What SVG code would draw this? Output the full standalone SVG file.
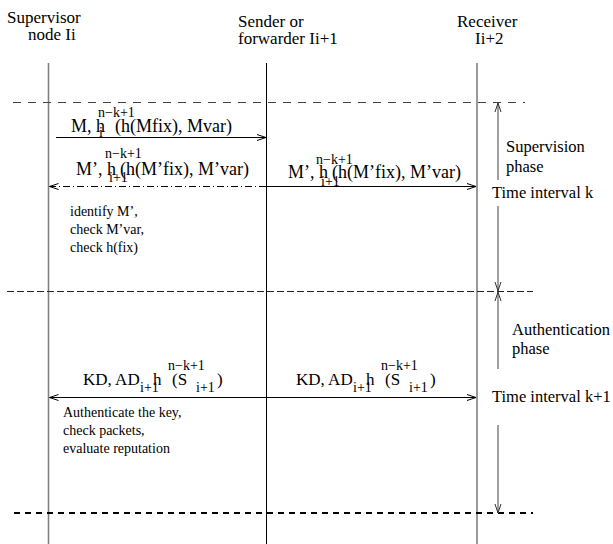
<svg xmlns="http://www.w3.org/2000/svg" width="613" height="544" viewBox="0 0 613 544">
<style>
text{font-family:"Liberation Serif","Times New Roman",serif;fill:#000}
.hd{font-size:17px}
.lb{font-size:18px}
.kd{font-size:17px}
.sc{font-size:14px}
.nt{font-size:14px}
.ph{font-size:16.5px}
.life{stroke:#808080;stroke-width:1.6;fill:none}
.lifeb{stroke:#000;stroke-width:1;fill:none}
.msg{stroke:#000;stroke-width:1;fill:none}
.pa{stroke:#808080;stroke-width:1.5;fill:none}
</style>
<defs>
<marker id="ah" markerUnits="userSpaceOnUse" markerWidth="12" markerHeight="10" refX="10" refY="5" orient="auto-start-reverse">
<path d="M1,2 L10,5 L1,8" fill="none" stroke="#000" stroke-width="1"/>
</marker>
<marker id="ag" markerUnits="userSpaceOnUse" markerWidth="12" markerHeight="10" refX="10" refY="5" orient="auto-start-reverse">
<path d="M1,2 L10,5 L1,8" fill="none" stroke="#333" stroke-width="1"/>
</marker>
</defs>

<g id="supervisor">
<text class="hd" x="7" y="23">Supervisor</text>
<text class="hd" x="28" y="39.5">node Ii</text>
<line class="life" x1="48.5" y1="63" x2="48.5" y2="544"/>
</g>
<g id="sender">
<text class="hd" x="238" y="27">Sender or</text>
<text class="hd" x="238" y="44">forwarder Ii+1</text>
<line class="lifeb" x1="266.5" y1="63" x2="266.5" y2="544"/>
</g>
<g id="receiver">
<text class="hd" x="457" y="27">Receiver</text>
<text class="hd" x="475" y="44">Ii+2</text>
<line class="life" x1="477" y1="63" x2="477" y2="544"/>
</g>

<g id="separators">
<line x1="13" y1="102.5" x2="525" y2="102.5" stroke="#444" stroke-width="1" stroke-dasharray="8 7"/>
<line x1="7" y1="291.5" x2="533" y2="291.5" stroke="#222" stroke-width="1" stroke-dasharray="7 3"/>
<line x1="14" y1="513" x2="533" y2="513" stroke="#000" stroke-width="2" stroke-dasharray="6 5"/>
</g>

<g id="connectors">
<line class="msg" x1="56" y1="137.5" x2="266" y2="137.5" marker-end="url(#ah)"/>
<line class="msg" x1="266" y1="186.5" x2="49.5" y2="186.5" stroke-dasharray="7 3 1 3" marker-end="url(#ah)"/>
<line class="msg" x1="266" y1="186.5" x2="476" y2="186.5" marker-end="url(#ah)"/>
<line class="msg" x1="49.5" y1="397.5" x2="476" y2="397.5" marker-start="url(#ah)" marker-end="url(#ah)"/>
<line class="pa" x1="498" y1="180" x2="498" y2="103" marker-end="url(#ag)"/>
<line class="pa" x1="498" y1="206" x2="498" y2="291" marker-end="url(#ag)"/>
<line class="pa" x1="498" y1="369" x2="498" y2="292" marker-end="url(#ag)"/>
<line class="pa" x1="498" y1="425" x2="498" y2="513" marker-end="url(#ag)"/>
</g>

<g id="label-m1">
<text class="lb" x="71" y="132">M, h</text>
<text class="sc" x="98" y="117">n−k+1</text>
<text class="sc" x="99" y="137">i</text>
<text class="lb" x="115" y="132">(h(Mfix), Mvar)</text>
</g>
<g id="label-m2-left">
<text class="lb" x="76" y="175">M’, h</text>
<text class="sc" x="105" y="158">n−k+1</text>
<text class="sc" x="109" y="182">i+1</text>
<text class="lb" x="120" y="175">(h(M’fix), M’var)</text>
</g>
<g id="label-m2-right">
<text class="lb" x="288" y="178">M’, h</text>
<text class="sc" x="316" y="164">n−k+1</text>
<text class="sc" x="321" y="186">i+1</text>
<text class="lb" x="332" y="178">(h(M’fix), M’var)</text>
</g>
<g id="note-supervision">
<text class="nt" x="70" y="216">identify M’,</text>
<text class="nt" x="70" y="234">check M’var,</text>
<text class="nt" x="70" y="252">check h(fix)</text>
</g>
<g id="label-kd-left">
<text class="kd" x="83" y="385">KD, AD</text>
<text class="sc" x="140" y="392">i+1</text>
<text class="kd" x="153" y="385">h</text>
<text class="sc" x="168" y="370">n−k+1</text>
<text class="kd" x="172" y="385">(S</text>
<text class="sc" x="196" y="392">i+1</text>
<text class="kd" x="217" y="385">)</text>
</g>
<g id="label-kd-right">
<text class="kd" x="296" y="385">KD, AD</text>
<text class="sc" x="353" y="392">i+1</text>
<text class="kd" x="366" y="385">h</text>
<text class="sc" x="381" y="370">n−k+1</text>
<text class="kd" x="385" y="385">(S</text>
<text class="sc" x="409" y="392">i+1</text>
<text class="kd" x="430" y="385">)</text>
</g>
<g id="note-authentication">
<text class="nt" x="63" y="417">Authenticate the key,</text>
<text class="nt" x="63" y="435">check packets,</text>
<text class="nt" x="63" y="453">evaluate reputation</text>
</g>
<g id="phases">
<text class="ph" x="506" y="152">Supervision</text>
<text class="ph" x="506" y="172">phase</text>
<text class="ph" x="492" y="198">Time interval k</text>
<text class="ph" x="512" y="335">Authentication</text>
<text class="ph" x="512" y="354">phase</text>
<text class="ph" x="492" y="402">Time interval k+1</text>
</g>
</svg>
